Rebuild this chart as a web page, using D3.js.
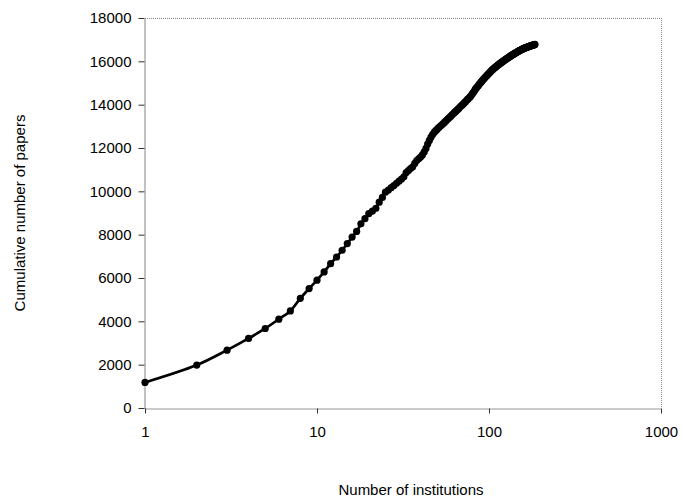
<!DOCTYPE html>
<html>
<head>
<meta charset="utf-8">
<script src="https://cdn.jsdelivr.net/npm/d3@7"></script>
<style>
  body { margin: 0; background: #fff; }
  text { font-family: "Liberation Sans", Arial, sans-serif; fill: #000; }
</style>
</head>
<body>
<svg id="chart" width="683" height="501"></svg>
<script>
// cumulative papers, one value per institution (rank 1..185)
var papers = [
  1180, 1980, 2670, 3210, 3670, 4100, 4480, 5060, 5510, 5900,
  6280, 6660, 6970, 7280, 7590, 7890, 8150, 8500, 8740, 8970,
  9090, 9220, 9500, 9720, 9960, 10060, 10170, 10270, 10370, 10470,
  10570, 10670, 10870, 10960, 11050, 11130, 11290, 11420, 11500, 11580,
  11680, 11820, 11980, 12180, 12350, 12500, 12620, 12720, 12800, 12870,
  12940, 13000, 13060, 13120, 13180, 13240, 13300, 13360, 13420, 13470,
  13530, 13580, 13640, 13690, 13740, 13790, 13840, 13900, 13950, 13990,
  14040, 14090, 14140, 14190, 14240, 14280, 14330, 14380, 14430, 14500,
  14560, 14620, 14690, 14750, 14800, 14850, 14900, 14950, 15000, 15050,
  15090, 15140, 15180, 15220, 15260, 15300, 15340, 15380, 15410, 15450,
  15490, 15520, 15560, 15590, 15620, 15650, 15680, 15710, 15730, 15760,
  15780, 15810, 15830, 15860, 15880, 15900, 15930, 15950, 15970, 15990,
  16010, 16030, 16050, 16070, 16090, 16110, 16130, 16140, 16160, 16180,
  16200, 16220, 16240, 16250, 16270, 16290, 16300, 16320, 16330, 16350,
  16360, 16380, 16390, 16410, 16420, 16440, 16450, 16460, 16480, 16490,
  16500, 16510, 16520, 16540, 16550, 16560, 16570, 16580, 16590, 16600,
  16610, 16620, 16630, 16635, 16640, 16650, 16660, 16665, 16670, 16680,
  16690, 16695, 16700, 16710, 16720, 16725, 16730, 16735, 16740, 16750,
  16755, 16760, 16770, 16775, 16780
];
var institutions = papers.map(function(v, i) { return i + 1; });

var xTicks = [1, 10, 100, 1000];
var yTicks = [0, 2000, 4000, 6000, 8000, 10000, 12000, 14000, 16000, 18000];

var svg = d3.select("#chart");
var m = { left: 145, right: 661, top: 18, bottom: 408 };

var x = d3.scaleLog().domain([1, 1000]).range([m.left, m.right]);
var y = d3.scaleLinear().domain([0, 18000]).range([m.bottom, m.top]);

var data = institutions.map(function(n, i) { return { n: n, v: papers[i] }; });

// plot frame (top/right light, left/bottom dark)
svg.append("line").attr("x1", m.left).attr("x2", m.right).attr("y1", m.top + 0.5).attr("y2", m.top + 0.5)
  .attr("stroke", "#888").attr("stroke-dasharray", "1,1");
svg.append("line").attr("x1", m.right + 0.5).attr("x2", m.right + 0.5).attr("y1", m.top).attr("y2", m.bottom)
  .attr("stroke", "#888").attr("stroke-dasharray", "1,1");

var yAxis = svg.append("g")
  .attr("transform", "translate(" + (m.left - 0.5) + ",0)")
  .call(d3.axisLeft(y).tickValues(yTicks).tickSize(6).tickSizeOuter(0).tickFormat(d3.format("d")));
var xAxis = svg.append("g")
  .attr("transform", "translate(0," + (m.bottom + 0.5) + ")")
  .call(d3.axisBottom(x).tickValues(xTicks).tickSize(5).tickSizeOuter(0).tickFormat(d3.format("d")));

[yAxis, xAxis].forEach(function(a) {
  a.select(".domain").attr("stroke", "#333").attr("stroke-dasharray", "1,1").attr("stroke-width", 1.2);
  a.selectAll(".tick line").attr("stroke", "#333");
  a.selectAll(".tick text").style("font-family", "'Liberation Sans', Arial, sans-serif")
    .style("font-size", "15px").attr("fill", "#000");
});
yAxis.selectAll(".tick text").attr("x", -13);
xAxis.selectAll(".tick text").attr("y", 18);

// line + markers
var line = d3.line()
  .x(function(d) { return x(d.n); })
  .y(function(d) { return y(d.v); })
  .curve(d3.curveCatmullRom);

svg.append("path").datum(data)
  .attr("d", line)
  .attr("fill", "none")
  .attr("stroke", "#000")
  .attr("stroke-width", 2.7);

svg.append("g").selectAll("circle")
  .data(data)
  .enter()
  .append("circle")
    .attr("cx", function(d) { return x(d.n); })
    .attr("cy", function(d) { return y(d.v); })
    .attr("r", 3.6)
    .attr("fill", "#000");

// axis titles
svg.append("text")
  .attr("transform", "translate(25,213) rotate(-90)")
  .attr("text-anchor", "middle")
  .style("font-size", "15px")
  .text("Cumulative number of papers");

svg.append("text")
  .attr("x", 411).attr("y", 495)
  .attr("text-anchor", "middle")
  .style("font-size", "15px")
  .text("Number of institutions");
</script>
</body>
</html>
